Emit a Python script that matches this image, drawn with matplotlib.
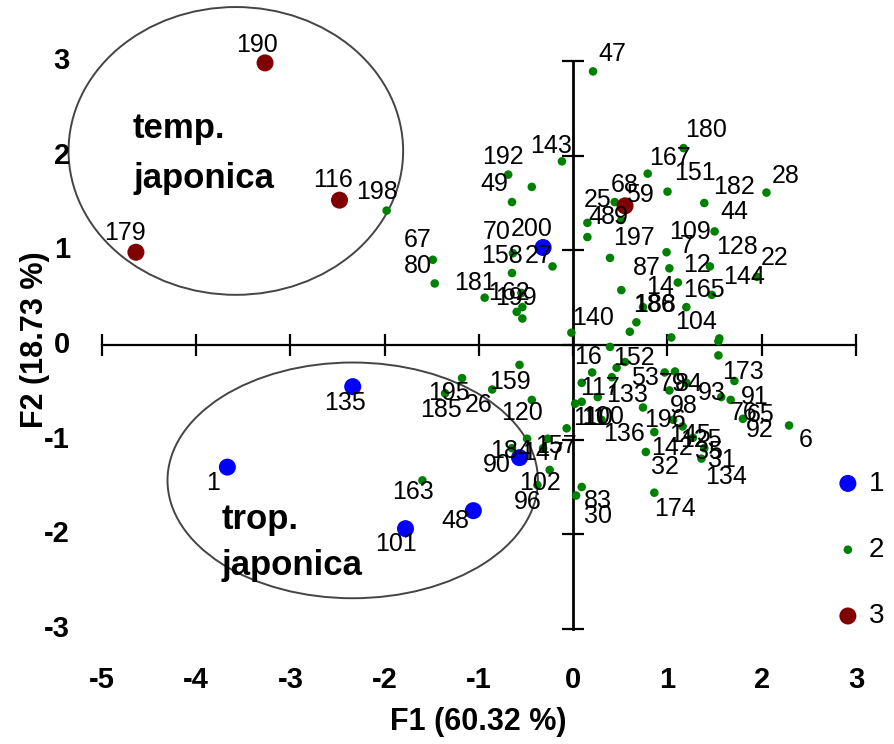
import matplotlib
matplotlib.use("Agg")
import matplotlib.pyplot as plt
import matplotlib.transforms as mtransforms
from matplotlib.patches import Ellipse

plt.rcParams['font.family'] = ['Liberation Sans', 'DejaVu Sans']

# ---- factor scores (F1, F2) per accession, by cluster ----
g1_ids = ['200', '135', '1', '101', '48', '184']
g1_x = [-0.32, -2.34, -3.67, -1.78, -1.06, -0.57]
g1_y = [1.03, -0.44, -1.29, -1.94, -1.75, -1.19]

g3_ids = ['190', '116', '179', '68']
g3_x = [-3.27, -2.48, -4.64, 0.55]
g3_y = [2.98, 1.53, 0.98, 1.47]

g2_ids = ['198', '67', '80', '192', '49', '', '143', '47', '70', '158', '27', '181',
          '162', '', '', '199',
          '180', '167', '151', '182', '28', '59', '89', '25', '4', '44', '109', '197',
          '7', '128', '22', '12', '144', '87', '14', '165', '186', '188', '140', '104', '',
          '152', '', '173', '16', '53', '79', '84', '117', '133', '91', '93', '100', '11',
          '110', '76', '65', '98', '196', '92', '157', '136', '145', '125', '142', '6',
          '35', '32', '134', '31', '83', '30', '174', '',
          '159', '195', '185', '26', '120', '', '147', '', '90', '102', '96', '163']
g2_x = [-1.98, -1.49, -1.47, -0.69, -0.65, -0.44, -0.12, 0.21, -0.64, -0.65, -0.22, -0.94,
        -0.55, -0.54, -0.60, -0.54,
        1.17, 0.79, 1.00, 1.39, 2.05, 0.44, 0.51, 0.15, 0.15, 1.50, 0.99, 0.39,
        1.02, 1.45, 1.95, 1.11, 1.47, 0.51, 0.74, 1.20, 0.67, 0.60, -0.02, 1.04, 1.55,
        0.39, 1.54, 1.54, 0.20, 0.55, 0.97, 1.08, 0.09, 0.41, 1.71, 1.20, 0.26, 0.09,
        0.02, 1.57, 1.67, 1.02, 0.74, 1.80, -0.07, 0.30, 1.06, 1.16, 0.86, 2.29,
        1.27, 0.77, 1.36, 1.39, 0.09, 0.03, 0.86, 0.46,
        -0.57, -1.18, -1.36, -0.86, -0.44, -0.49, -0.27, -0.32, -0.65, -0.25, -0.38, -1.60]
g2_y = [1.42, 0.90, 0.65, 1.80, 1.51, 1.67, 1.94, 2.89, 0.97, 0.76, 0.83, 0.50,
        0.55, 0.40, 0.35, 0.28,
        2.08, 1.81, 1.62, 1.50, 1.61, 1.51, 1.32, 1.29, 1.14, 1.20, 0.98, 0.92,
        0.81, 0.83, 0.72, 0.66, 0.53, 0.58, 0.40, 0.40, 0.24, 0.14, 0.13, 0.08, 0.07,
        -0.02, 0.04, -0.11, -0.29, -0.18, -0.29, -0.28, -0.40, -0.34, -0.38, -0.40, -0.55, -0.60,
        -0.62, -0.55, -0.58, -0.48, -0.66, -0.78, -0.88, -0.79, -0.79, -0.86, -0.92, -0.85,
        -0.98, -1.13, -1.20, -1.09, -1.50, -1.59, -1.56, -0.24,
        -0.21, -0.35, -0.51, -0.47, -0.58, -0.99, -0.99, -1.09, -1.09, -1.32, -1.48, -1.43]

# label placement (pixel offsets from each marker)
g1_off = [(-11, 18), (-8, -16), (-14, -16), (-9, -15), (-18, -10), (-8, 7)]
g3_off = [(-8, 18), (-7, 20), (-11, 19), (0, 21)]
g2_off = [(-10, 19), (-15, 20), (-17, 17), (-5, 18), (-18, 18), (0, 0), (-11, 15), (19, 17),
          (-16, 21), (-10, 17), (-14, 10), (-10, 15), (-12, 0), (0, 0), (0, 0), (-6, 20),
          (23, 18), (22, 16), (27, 19), (30, 16), (19, 17), (25, 7), (-7, 3), (10, 23),
          (8, 20), (20, 19), (23, 20), (24, 20), (17, 22), (27, 19), (18, 19), (19, 18),
          (32, 18), (25, 22), (17, 20), (18, 17), (18, 17), (25, 27), (22, 15), (25, 15),
          (0, 0),
          (24, -11), (0, 0), (25, -17), (-4, 15), (20, -16), (8, -12), (14, -12), (18, -5),
          (15, -18), (20, -16), (25, -10), (5, -20), (12, -16), (18, -14), (22, -16),
          (30, -15), (14, -16), (22, -13), (17, -11), (-11, -18), (22, -14), (17, -15),
          (18, -14), (18, -16), (17, -15), (16, -14), (19, -15), (25, -18), (18, -12),
          (16, -14), (22, -20), (21, -16), (0, 0),
          (-10, -17), (-13, -15), (-4, -17), (-14, -16), (-10, -13), (0, 0), (-5, -14),
          (0, 0), (-15, -17), (-10, -13), (-10, -17), (-9, -12)]

# cluster envelopes: (center x, center y, width, height)
ell_temp = (-3.58, 2.05, 3.55, 3.04)
ell_trop = (-2.34, -1.43, 3.93, 2.49)

xticks = [-5, -4, -3, -2, -1, 0, 1, 2, 3]
yticks = [-3, -2, -1, 0, 1, 2, 3]

W, H = 895, 744
fig = plt.figure(figsize=(W / 100, H / 100), dpi=100)
ax = fig.add_axes([102 / W, 1 - 629 / H, 754 / W, 568 / H])
ax.set_xlim(-5, 3)
ax.set_ylim(-3, 3)

# axes crossing at the origin
for s in ('top', 'right'):
    ax.spines[s].set_visible(False)
ax.spines['left'].set_position(('data', 0))
ax.spines['bottom'].set_position(('data', 0))
ax.spines['left'].set_linewidth(2.0)
ax.spines['bottom'].set_linewidth(1.6)
ax.set_xticks(xticks)
ax.set_yticks(yticks)
ax.tick_params(axis='both', direction='inout', length=16, width=1.6,
               labelleft=False, labelbottom=False)

# tick labels along the outer frame
ty = mtransforms.blended_transform_factory(fig.transFigure, ax.transData)
for v in yticks:
    ax.text(70 / W, v, str(v), transform=ty, ha='right', va='center',
            fontsize=21, fontweight='bold', clip_on=False)
tx = mtransforms.blended_transform_factory(ax.transData, fig.transFigure)
for v in xticks:
    ax.text(v, 1 - 680 / H, str(v), transform=tx, ha='center', va='center',
            fontsize=21, fontweight='bold', clip_on=False)

fig.text(478 / W, 1 - 722 / H, 'F1 (60.32 %)', ha='center', va='center',
         fontsize=22, fontweight='bold')
fig.text(35 / W, 1 - 340 / H, 'F2 (18.73 %)', ha='center', va='center',
         fontsize=22, fontweight='bold', rotation=90)

# envelopes
for cx, cy, w, h in (ell_temp, ell_trop):
    ax.add_patch(Ellipse((cx, cy), w, h, fill=False, edgecolor='#444444',
                         linewidth=1.4, clip_on=False, zorder=1))

# points
s1 = ax.scatter(g1_x, g1_y, s=150, color='#0000ff', edgecolors='none',
                zorder=3, clip_on=False, label='1')
s2 = ax.scatter(g2_x, g2_y, s=38, marker='o', color='#008000', edgecolors='none',
                zorder=3, clip_on=False, label='2')
s3 = ax.scatter(g3_x, g3_y, s=150, color='#800000', edgecolors='none',
                zorder=3, clip_on=False, label='3')

# point labels
for ids, xs, ys, offs in ((g1_ids, g1_x, g1_y, g1_off),
                          (g2_ids, g2_x, g2_y, g2_off),
                          (g3_ids, g3_x, g3_y, g3_off)):
    for lab, x, y, (dx, dy) in zip(ids, xs, ys, offs):
        if not lab:
            continue
        ax.annotate(lab, (x, y), xytext=(dx, dy), textcoords='offset pixels',
                    ha='center', va='center', fontsize=18, color='black',
                    zorder=4, annotation_clip=False)

# cluster names
ax.text(-4.67, 2.19, 'temp.', fontsize=25, fontweight='bold', va='baseline', ha='left')
ax.text(-4.67, 1.66, 'japonica', fontsize=25, fontweight='bold', va='baseline', ha='left')
ax.text(-3.73, -1.94, 'trop.', fontsize=25, fontweight='bold', va='baseline', ha='left')
ax.text(-3.73, -2.43, 'japonica', fontsize=25, fontweight='bold', va='baseline', ha='left')

fig.legend(handles=[s1, s2, s3], labels=['1', '2', '3'], loc='center left',
           bbox_to_anchor=(834 / W, 1 - 550 / H), bbox_transform=fig.transFigure,
           frameon=False, fontsize=20, handlelength=1.0, handletextpad=0.25,
           labelspacing=1.45, borderpad=0, borderaxespad=0, scatterpoints=1)

fig.savefig('out.png', dpi=100)
